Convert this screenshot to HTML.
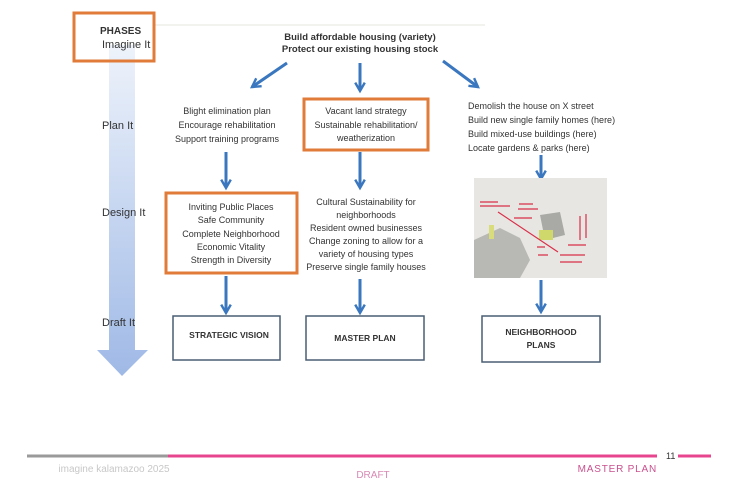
<!DOCTYPE html>
<html><head><meta charset="utf-8"><style>
html,body{margin:0;padding:0;background:#fff;}
svg{display:block;}
text{font-family:"Liberation Sans",sans-serif;fill:#333;}
</style></head><body>
<svg width="750" height="500" viewBox="0 0 750 500" xmlns="http://www.w3.org/2000/svg">
<defs>
<linearGradient id="g" x1="0" y1="0" x2="0" y2="1">
<stop offset="0" stop-color="#eef3fb"/><stop offset="1" stop-color="#9fb9e6"/>
</linearGradient>
<marker id="ah" viewBox="0 0 10 10" refX="8" refY="5" markerWidth="4" markerHeight="4" orient="auto">
<path d="M1,1 L8,5 L1,9" fill="none" stroke="#3a77bf" stroke-width="2"/>
</marker>
</defs>
<line x1="155" y1="25" x2="485" y2="25" stroke="#e4e4dc" stroke-width="1"/>
<!-- big phase arrow -->
<path d="M109,45 H135 V350 H148 L122,376 L97,350 H109 Z" fill="url(#g)"/>
<rect x="74" y="13" width="80" height="48" fill="none" stroke="#e07b39" stroke-width="3"/>
<rect x="74" y="13" width="80" height="48" fill="none" stroke="none"/>
<text x="100" y="34" font-size="10" font-weight="bold" fill="#444">PHASES</text>
<text x="102" y="48" font-size="11">Imagine It</text>
<text x="360" y="40" font-size="9.5" font-weight="bold" text-anchor="middle" fill="#222">Build affordable housing (variety)</text>
<text x="360" y="52" font-size="9.5" font-weight="bold" text-anchor="middle" fill="#222">Protect our existing housing stock</text>
<g stroke="#3a77bf" stroke-width="3" fill="none" marker-end="url(#ah)">
<line x1="287" y1="63" x2="252" y2="87"/>
<line x1="360" y1="63" x2="360" y2="91"/>
<line x1="443" y1="61" x2="478" y2="87"/>
<line x1="226" y1="152" x2="226" y2="188"/>
<line x1="360" y1="152" x2="360" y2="188"/>
<line x1="541" y1="155" x2="541" y2="179"/>
<line x1="226" y1="276" x2="226" y2="313"/>
<line x1="360" y1="279" x2="360" y2="313"/>
<line x1="541" y1="280" x2="541" y2="312"/>
</g>
<text x="102" y="129" font-size="11">Plan It</text>
<text x="102" y="216" font-size="11">Design It</text>
<text x="102" y="326" font-size="11">Draft It</text>
<g font-size="9" text-anchor="middle">
<text x="227" y="114">Blight elimination plan</text>
<text x="227" y="128">Encourage rehabilitation</text>
<text x="227" y="142">Support training programs</text>
<text x="366" y="114">Vacant land strategy</text>
<text x="366" y="128">Sustainable rehabilitation/</text>
<text x="366" y="141">weatherization</text>
<text x="231" y="210">Inviting Public Places</text>
<text x="231" y="223">Safe Community</text>
<text x="231" y="237">Complete Neighborhood</text>
<text x="231" y="250">Economic Vitality</text>
<text x="231" y="263">Strength in Diversity</text>
<text x="366" y="205">Cultural Sustainability for</text>
<text x="366" y="218">neighborhoods</text>
<text x="366" y="231">Resident owned businesses</text>
<text x="366" y="244">Change zoning to allow for a</text>
<text x="366" y="257">variety of housing types</text>
<text x="366" y="270">Preserve single family houses</text>
</g>
<g font-size="9">
<text x="468" y="109">Demolish the house on X street</text>
<text x="468" y="123">Build new single family homes (here)</text>
<text x="468" y="137">Build mixed-use buildings (here)</text>
<text x="468" y="151">Locate gardens &amp; parks (here)</text>
</g>
<rect x="304" y="99" width="124" height="51" fill="none" stroke="#e07b39" stroke-width="3"/>
<rect x="166" y="193" width="131" height="80" fill="none" stroke="#e07b39" stroke-width="3"/>
<!-- map -->
<rect x="474" y="178" width="133" height="100" fill="#e8e6e2"/>
<path d="M474,240 L500,228 L520,238 L530,260 L520,278 L474,278Z" fill="#b8b8b4"/>
<path d="M540,215 L560,212 L565,235 L545,240Z" fill="#a9aaa6"/>
<rect x="539" y="230" width="14" height="10" fill="#cfd86a"/>
<rect x="489" y="225" width="5" height="14" fill="#d8dc7a"/>
<g stroke="#d8304a" stroke-width="1.2" fill="none">
<path d="M480,202 h18 M480,206 h30 M519,204 h14 M518,209 h20 M514,218 h18 M580,216 v24 M586,214 v24 M568,245 h18 M560,255 h25 M560,262 h22 M537,247 h8 M538,255 h10 M498,212 q30,20 60,40"/>
</g>
<g stroke="#4a5e74" stroke-width="1.5" fill="#fff">
<rect x="173" y="316" width="107" height="44"/>
<rect x="306" y="316" width="118" height="44"/>
<rect x="482" y="316" width="118" height="46"/>
</g>
<g font-size="8.5" font-weight="bold" text-anchor="middle" fill="#222">
<text x="229" y="338">STRATEGIC VISION</text>
<text x="365" y="341">MASTER PLAN</text>
<text x="541" y="335">NEIGHBORHOOD</text>
<text x="541" y="348">PLANS</text>
</g>
<!-- footer -->
<line x1="27" y1="456" x2="168" y2="456" stroke="#9a9a9a" stroke-width="3"/>
<line x1="168" y1="456" x2="657" y2="456" stroke="#e8458f" stroke-width="3"/>
<line x1="678" y1="456" x2="711" y2="456" stroke="#e8458f" stroke-width="3"/>
<text x="666" y="459" font-size="9" fill="#bbb" font-family="Liberation Serif">11</text>
<text x="114" y="472" font-size="10" fill="#c8c8c8" text-anchor="middle" font-family="Liberation Serif,serif" style="fill:#c8c8c8">imagine kalamazoo 2025</text>
<text x="373" y="478" font-size="10" text-anchor="middle" font-family="Liberation Serif,serif" style="fill:#d88ab4">DRAFT</text>
<text x="657" y="472" font-size="10" text-anchor="end" letter-spacing="0.8" font-family="Liberation Serif,serif" style="fill:#c9508e">MASTER PLAN</text>
</svg>
</body></html>
